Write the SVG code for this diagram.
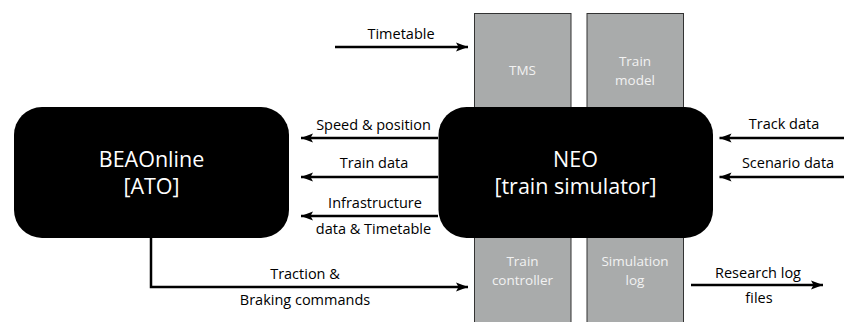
<svg xmlns="http://www.w3.org/2000/svg" width="844" height="322" viewBox="0 0 844 322">
<style>
.lbl{font-family:"Open Sans","DejaVu Sans",sans-serif;font-size:14.5px;fill:#000;text-anchor:middle}
.big{font-family:"Open Sans","DejaVu Sans",sans-serif;font-size:21.5px;fill:#fff;text-anchor:middle}
.sub{font-family:"Open Sans","DejaVu Sans",sans-serif;font-size:13.5px;fill:#f2f2f2;text-anchor:middle}
.col{fill:#a9abab;stroke:#333;stroke-width:1}
.blk{fill:#000}
.ln{fill:none;stroke:#000;stroke-width:2.5;marker-end:url(#ah)}
</style>
<defs>
<marker id="ah" markerUnits="userSpaceOnUse" markerWidth="14" markerHeight="10" refX="12" refY="5" orient="auto">
<path d="M0,0.5 L12,5 L0,9.5 L2.5,5 Z" fill="#000"/>
</marker>
</defs>
<g id="tms"><rect class="col" x="474.5" y="13.5" width="96.5" height="310"/><text class="sub" x="522.5" y="75">TMS</text></g>
<g id="train-model"><rect class="col" x="587" y="13.5" width="96.5" height="310"/><text class="sub" x="635" y="66">Train</text><text class="sub" x="635" y="84.5">model</text></g>
<g id="train-controller"><text class="sub" x="522.5" y="266">Train</text><text class="sub" x="522.5" y="285">controller</text></g>
<g id="simulation-log"><text class="sub" x="635" y="266">Simulation</text><text class="sub" x="635" y="284.5">log</text></g>
<g id="beaonline"><rect class="blk" x="14" y="107" width="275" height="131" rx="28" ry="28"/><text class="big" x="151.5" y="167">BEAOnline</text><text class="big" x="151.5" y="194">[ATO]</text></g>
<g id="neo"><rect class="blk" x="438.5" y="107" width="274.5" height="131" rx="28" ry="28"/><text class="big" x="575.5" y="167">NEO</text><text class="big" x="575.5" y="194">[train simulator]</text></g>
<g id="connectors">
<line class="ln" x1="335" y1="47" x2="468" y2="47"/>
<line class="ln" x1="438" y1="138" x2="301" y2="138"/>
<line class="ln" x1="438" y1="177" x2="301" y2="177"/>
<line class="ln" x1="438" y1="216" x2="301" y2="216"/>
<line class="ln" x1="844" y1="138" x2="719.5" y2="138"/>
<line class="ln" x1="844" y1="177" x2="719.5" y2="177"/>
<polyline class="ln" points="151,238 151,287 468,287"/>
<line class="ln" x1="691" y1="285" x2="823" y2="285"/>
</g>
<g id="labels">
<text class="lbl" x="401" y="39">Timetable</text>
<text class="lbl" x="373.5" y="130">Speed &amp; position</text>
<text class="lbl" x="374" y="168">Train data</text>
<text class="lbl" x="375" y="208">Infrastructure</text>
<text class="lbl" x="373.5" y="234">data &amp; Timetable</text>
<text class="lbl" x="784" y="129">Track data</text>
<text class="lbl" x="788" y="168">Scenario data</text>
<text class="lbl" x="305" y="279">Traction &amp;</text>
<text class="lbl" x="305" y="305">Braking commands</text>
<text class="lbl" x="758" y="278">Research log</text>
<text class="lbl" x="759" y="303">files</text>
</g>
</svg>
